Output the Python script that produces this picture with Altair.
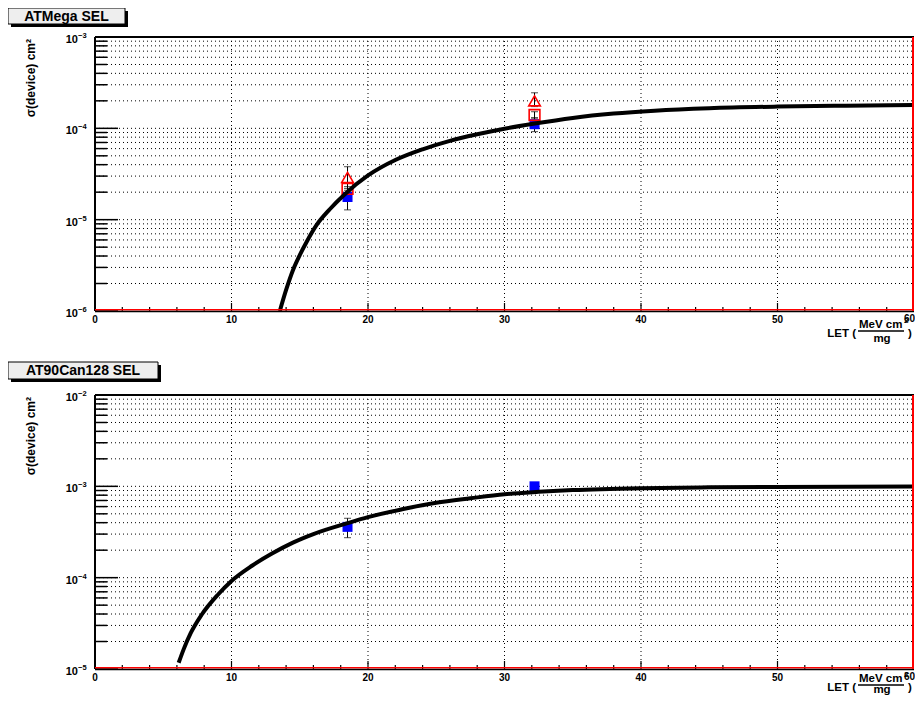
import altair as alt
import pandas as pd

FONT = "Liberation Sans"
W, H = 819, 274
GAP = 84
TOTAL_H = 2 * H + GAP

# ---------------- ATMega SEL (top panel) ----------------
atmega_let = [18.5, 32.2]
atmega_tri = [2.9e-5, 2.0e-4]            # red open triangles
atmega_tri_lo = [2.1e-5, 1.73e-4]
atmega_tri_hi = [3.8e-5, 2.45e-4]
atmega_rsq = [2.17e-5, 1.40e-4]          # red open squares
atmega_rsq_lo = [1.95e-5, 1.30e-4]
atmega_rsq_hi = [2.30e-5, 1.52e-4]
atmega_bsq = [1.77e-5, 1.11e-4]          # blue filled squares
atmega_bsq_lo = [1.28e-5, 9.2e-5]
atmega_bsq_hi = [2.20e-5, 1.30e-4]

atmega_fit_let = [13.54, 14.0, 14.5, 15.0, 15.5, 16.2, 17.2, 18.3, 20.0, 22.0, 24.0,
                  26.0, 28.0, 30.0, 32.1, 35.0, 38.0, 41.0, 45.0, 50.0, 55.0, 60.0]
atmega_fit_sig = [1.0e-6, 1.7e-6, 2.8e-6, 4.1e-6, 5.7e-6, 8.6e-6, 1.3e-5, 1.9e-5,
                  3.05e-5, 4.5e-5, 5.9e-5, 7.3e-5, 8.6e-5, 9.9e-5, 1.12e-4, 1.30e-4,
                  1.45e-4, 1.56e-4, 1.66e-4, 1.73e-4, 1.77e-4, 1.80e-4]

# ---------------- AT90Can128 SEL (bottom panel) ----------------
at90_let = [18.5, 32.2]
at90_bsq = [3.6e-4, 1.0e-3]
at90_bsq_lo = [2.74e-4, 1.0e-3]
at90_bsq_hi = [4.47e-4, 1.0e-3]

at90_fit_let = [6.13, 6.5, 7.0, 7.8, 9.0, 10.0, 11.5, 13.0, 14.5, 16.0, 18.5, 20.0,
                22.5, 25.0, 27.5, 30.0, 32.5, 35.0, 40.0, 45.0, 50.0, 60.0]
at90_fit_sig = [1.17e-5, 1.65e-5, 2.45e-5, 3.9e-5, 6.5e-5, 9.2e-5, 1.35e-4, 1.85e-4,
                2.42e-4, 3.0e-4, 3.95e-4, 4.6e-4, 5.6e-4, 6.6e-4, 7.4e-4, 8.2e-4,
                8.7e-4, 9.1e-4, 9.55e-4, 9.75e-4, 9.85e-4, 9.95e-4]

# ---------------- axes ----------------
x_tick_labels = [0, 10, 20, 30, 40, 50]
x_last_label = [60]
x_grid = [10, 20, 30, 40, 50]
x_minor = [2, 4, 6, 8, 12, 14, 16, 18, 22, 24, 26, 28, 32, 34, 36, 38,
           42, 44, 46, 48, 52, 54, 56, 58]
top_decades = [-6, -5, -4, -3]
bot_decades = [-5, -4, -3, -2]
mantissas = [2, 3, 4, 5, 6, 7, 8, 9]
SUP = {-2: "\u22122", -3: "\u22123", -4: "\u22124", -5: "\u22125", -6: "\u22126"}

one = pd.DataFrame({"k": [0]})
XS = alt.Scale(domain=[0, 60], nice=False, zero=False)


def X(f):
    return alt.X(f, type="quantitative", scale=XS, axis=None)


def txt(text, x, y, size, align="center", baseline="middle", angle=0):
    kw = dict(text=text, font=FONT, fontWeight="bold", fontSize=size,
              align=align, baseline=baseline, color="black")
    if angle:
        kw["angle"] = angle
    return alt.Chart(one).mark_text(**kw).encode(x=alt.value(x), y=alt.value(y))


def rule(x, x2, y, y2, color="black", width=1.5):
    return alt.Chart(one).mark_rule(color=color, strokeWidth=width).encode(
        x=alt.value(x), x2=alt.value(x2), y=alt.value(y), y2=alt.value(y2))


def panel(y0, title, box, decades, series, fit_x, fit_y, let_shift=0.0, mg_shift=0.0):
    lo_e, hi_e = decades[0], decades[-1]
    ys = alt.Scale(type="log", domain=[10.0 ** lo_e, 10.0 ** hi_e], nice=False,
                   range=[y0 + H, y0])

    def Y(f):
        return alt.Y(f, type="quantitative", scale=ys, axis=None)

    minor_vals = [k * 10.0 ** e for e in range(lo_e, hi_e) for k in mantissas]
    major_vals = [10.0 ** e for e in decades]
    grid_vals = minor_vals + major_vals[1:-1]
    B = y0 + H  # bottom pixel of this panel

    dots = dict(color="black", strokeDash=[1, 3], strokeWidth=1)
    layers = [
        alt.Chart(pd.DataFrame({"v": grid_vals})).mark_rule(**dots).encode(
            y=Y("v"), x=alt.value(0), x2=alt.value(W)),
        alt.Chart(pd.DataFrame({"v": x_grid})).mark_rule(**dots).encode(
            x=X("v"), y=alt.value(y0), y2=alt.value(B)),
        alt.Chart(pd.DataFrame({"v": minor_vals})).mark_rule(
            color="black", strokeWidth=1.5).encode(y=Y("v"), x=alt.value(0), x2=alt.value(12)),
        alt.Chart(pd.DataFrame({"v": major_vals})).mark_rule(
            color="black", strokeWidth=1.5).encode(y=Y("v"), x=alt.value(0), x2=alt.value(23)),
        alt.Chart(pd.DataFrame({"v": x_minor})).mark_rule(
            color="black", strokeWidth=1.2).encode(x=X("v"), y=alt.value(B), y2=alt.value(B - 4)),
        alt.Chart(pd.DataFrame({"v": x_grid})).mark_rule(
            color="black", strokeWidth=1.2).encode(x=X("v"), y=alt.value(B), y2=alt.value(B - 8)),
    ]

    dec_df = pd.DataFrame({"v": major_vals, "e": [SUP[e] for e in decades]})
    layers += [
        alt.Chart(dec_df).mark_text(
            text="10", font=FONT, fontWeight="bold", fontSize=11, align="right",
            baseline="middle", dy=3).encode(y=Y("v"), x=alt.value(-17)),
        alt.Chart(dec_df).mark_text(
            font=FONT, fontWeight="bold", fontSize=7.5, align="left",
            baseline="middle", dy=-1).encode(y=Y("v"), x=alt.value(-17), text="e:N"),
        alt.Chart(pd.DataFrame({"v": x_tick_labels})).mark_text(
            font=FONT, fontWeight="bold", fontSize=10, align="center",
            baseline="top").encode(x=X("v"), y=alt.value(B + 4), text="v:Q"),
    ]

    # error bars, then markers
    for (lets, yv, lo, hi, kind) in series:
        df = pd.DataFrame({"let": lets, "y": yv, "lo": lo, "hi": hi})
        layers.append(alt.Chart(df).mark_rule(color="black", strokeWidth=1).encode(
            x=X("let"), y=Y("lo"), y2=alt.Y2("hi")))
        for f in ("lo", "hi"):
            layers.append(alt.Chart(df).mark_tick(
                orient="horizontal", size=7, thickness=1, color="black").encode(
                x=X("let"), y=Y(f)))
    for (lets, yv, lo, hi, kind) in series:
        df = pd.DataFrame({"let": lets, "y": yv})
        if kind == "bsq":
            m = alt.Chart(df).mark_square(size=100, color="#0000ff", opacity=1)
        elif kind == "rsq":
            m = alt.Chart(df).mark_point(shape="square", size=115, filled=False,
                                         color="#ff0000", strokeWidth=1.6, opacity=1)
        else:
            m = alt.Chart(df).mark_point(shape="triangle-up", size=135, filled=False,
                                         color="#ff0000", strokeWidth=1.6, opacity=1)
        layers.append(m.encode(x=X("let"), y=Y("y")))

    layers.append(alt.Chart(pd.DataFrame({"let": fit_x, "sig": fit_y})).mark_line(
        color="black", strokeWidth=4, interpolate="monotone").encode(
        x=X("let"), y=Y("sig"), order=alt.Order("let:Q")))

    # frame
    layers += [
        rule(0, W, y0, y0, "black", 2),
        rule(0, 0, y0, B, "black", 2),
        rule(0, W, B - 1.2, B - 1.2, "#ff0000", 1.5),
        rule(0, W, B + 0.6, B + 0.6, "black", 1.5),
        rule(W - 1, W - 1, y0, B, "#ff0000", 2),
        alt.Chart(pd.DataFrame({"v": x_last_label})).mark_text(
            font=FONT, fontWeight="bold", fontSize=10, align="right", dx=1,
            baseline="top").encode(x=X("v"), y=alt.value(B + 3), text="v:Q"),
    ]

    # title box with shadow
    bx0, bx1, by0, by1 = box
    layers += [
        alt.Chart(one).mark_rect(color="black").encode(
            x=alt.value(bx0 + 3), x2=alt.value(bx1 + 3),
            y=alt.value(y0 + by0 + 3), y2=alt.value(y0 + by1 + 3)),
        alt.Chart(one).mark_rect(fill="#eeeeee", stroke="black", strokeWidth=1).encode(
            x=alt.value(bx0), x2=alt.value(bx1),
            y=alt.value(y0 + by0), y2=alt.value(y0 + by1)),
        txt(title, (bx0 + bx1) / 2, y0 + (by0 + by1) / 2 + 0.5, 14),
    ]

    # y title
    layers.append(txt("\u03c3(device) cm\u00b2", -64, y0 + 2, 12, align="right", angle=270))

    # x title: LET (MeV cm^2 / mg)
    L = B + let_shift
    layers += [
        txt("LET (", W - 58, L + 22.5, 11.5, align="right"),
        txt("MeV cm", W - 33.3, L + 17, 11.5, baseline="alphabetic"),
        rule(W - 56, W - 10, L + 20, L + 20, "black", 1.5),
        txt("2", W - 10, L + 11.5, 8, align="left", baseline="alphabetic"),
        txt("mg", W - 32, L + 30.5 + mg_shift, 11.5, baseline="alphabetic"),
        txt(")", W - 6, L + 22.5, 11.5, align="left"),
    ]
    return layers


top_layers = panel(0, "ATMega SEL", (-87, 30, -29, -13), top_decades,
                   [(atmega_let, atmega_bsq, atmega_bsq_lo, atmega_bsq_hi, "bsq"),
                    (atmega_let, atmega_rsq, atmega_rsq_lo, atmega_rsq_hi, "rsq"),
                    (atmega_let, atmega_tri, atmega_tri_lo, atmega_tri_hi, "tri")],
                   atmega_fit_let, atmega_fit_sig)

bot_layers = panel(H + GAP, "AT90Can128 SEL", (-87, 63, -33, -16), bot_decades,
                   [(at90_let, at90_bsq, at90_bsq_lo, at90_bsq_hi, "bsq")],
                   at90_fit_let, at90_fit_sig, let_shift=-4, mg_shift=-3)

chart = alt.layer(*top_layers, *bot_layers).resolve_scale(y="independent").properties(
    width=W, height=TOTAL_H,
    autosize=alt.AutoSizeParams(type="none"),
    padding={"left": 87, "top": 29, "right": 1, "bottom": 26},
).configure_view(stroke=None)

chart.save("out.html", embed_options={"renderer": "svg", "actions": False})
